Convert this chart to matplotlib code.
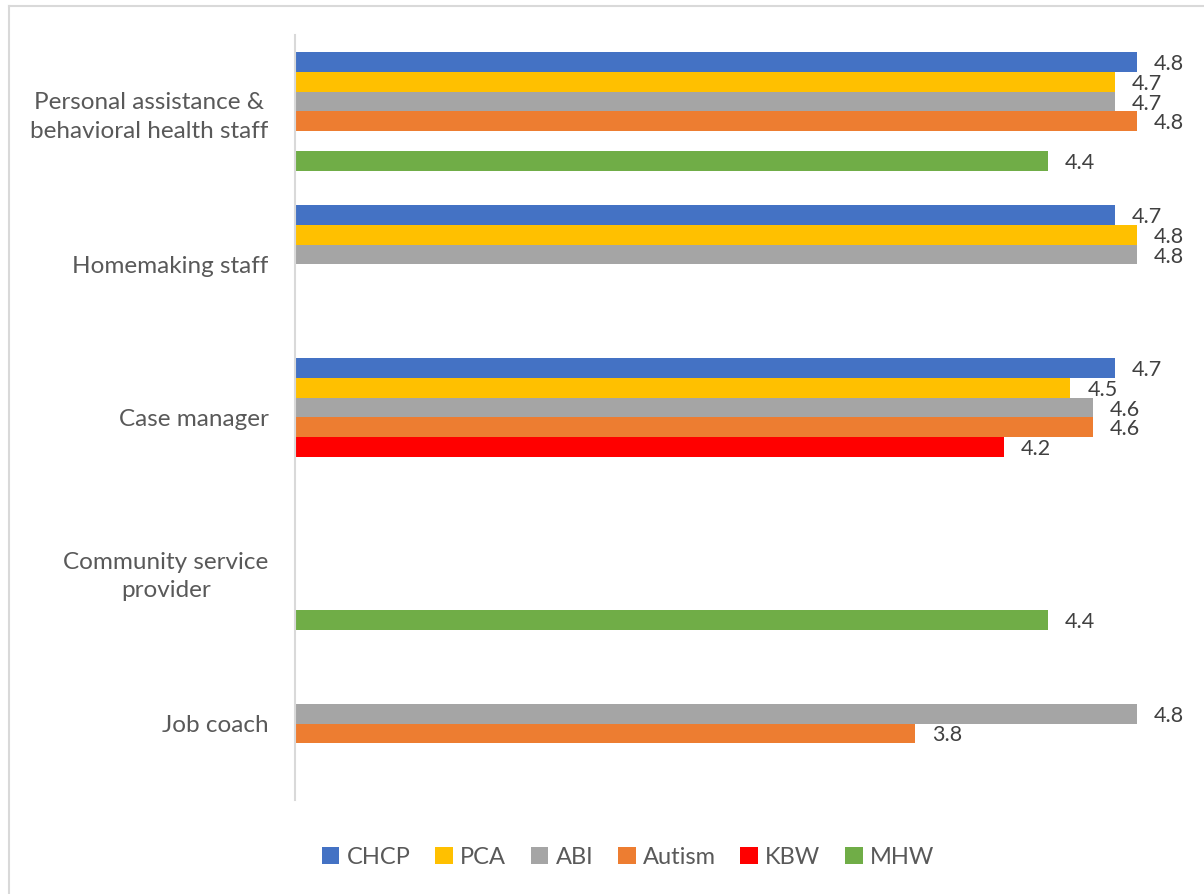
import numpy as np
import matplotlib
matplotlib.use('Agg')
import matplotlib.pyplot as plt
from matplotlib.patches import Patch

plt.rcParams['font.family'] = ['Lato', 'DejaVu Sans']

categories = [
    'Personal assistance &\nbehavioral health staff',
    'Homemaking staff',
    'Case manager',
    'Community service\nprovider',
    'Job coach',
]
series = ['CHCP', 'PCA', 'ABI', 'Autism', 'KBW', 'MHW']
nan = np.nan
chcp = [4.8, 4.7, 4.7, nan, nan]
pca = [4.7, 4.8, 4.5, nan, nan]
abi = [4.7, 4.8, 4.6, nan, 4.8]
autism = [4.8, nan, 4.6, nan, 3.8]
kbw = [nan, nan, 4.2, nan, nan]
mhw = [4.4, nan, nan, 4.4, nan]
values = [chcp, pca, abi, autism, kbw, mhw]

colors = ['#4472C4', '#FFC000', '#A5A5A5', '#ED7D31', '#FF0000', '#70AD47']

fig = plt.figure(figsize=(12.04, 8.94), dpi=100)
ax = fig.add_axes([0.245, 0.105, 0.736, 0.856])

y = np.arange(len(categories))
h = 0.1288
for i, (vals, col) in enumerate(zip(values, colors)):
    pos = y + (i - 2.5) * h
    v = np.array(vals, dtype=float)
    ax.barh(pos, v - 1, left=1, height=h, color=col, linewidth=0)
    for p, val in zip(pos, v):
        if not np.isnan(val):
            ax.annotate(f'{val:.1f}', xy=(val, p), xytext=(17, -2),
                        textcoords='offset pixels', ha='left', va='center',
                        fontsize=15.5, color='#404040')

ax.set_xlim(1, 5)
ax.set_ylim(len(categories) - 0.5, -0.5)
ax.set_yticks(y)
ax.set_yticklabels(categories, fontsize=17.5, color='#595959')
for t in ax.get_yticklabels():
    t.set_multialignment('center')
    t.set_linespacing(1.45)
ax.tick_params(axis='y', length=0, pad=19)
ax.set_xticks([])
for s in ['top', 'right', 'bottom']:
    ax.spines[s].set_visible(False)
ax.spines['left'].set_color('#D9D9D9')
ax.spines['left'].set_linewidth(1.5)

handles = [Patch(facecolor=c, edgecolor='none') for c in colors]
fig.legend(handles, series, loc='center', bbox_to_anchor=(0.5216, 0.041), ncol=6,
           frameon=False, fontsize=17, labelcolor='#595959',
           handlelength=0.75, handleheight=0.75, handletextpad=0.3,
           columnspacing=1.05)

# light chart border
fig.add_artist(plt.Line2D([9 / 1204, 1.1], [1 - 6 / 894, 1 - 6 / 894],
                          transform=fig.transFigure, color='#D9D9D9', lw=1.5))
fig.add_artist(plt.Line2D([9 / 1204, 9 / 1204], [1 - 6 / 894, -0.1],
                          transform=fig.transFigure, color='#D9D9D9', lw=1.5))

fig.savefig('out.png', dpi=100, facecolor='white')
